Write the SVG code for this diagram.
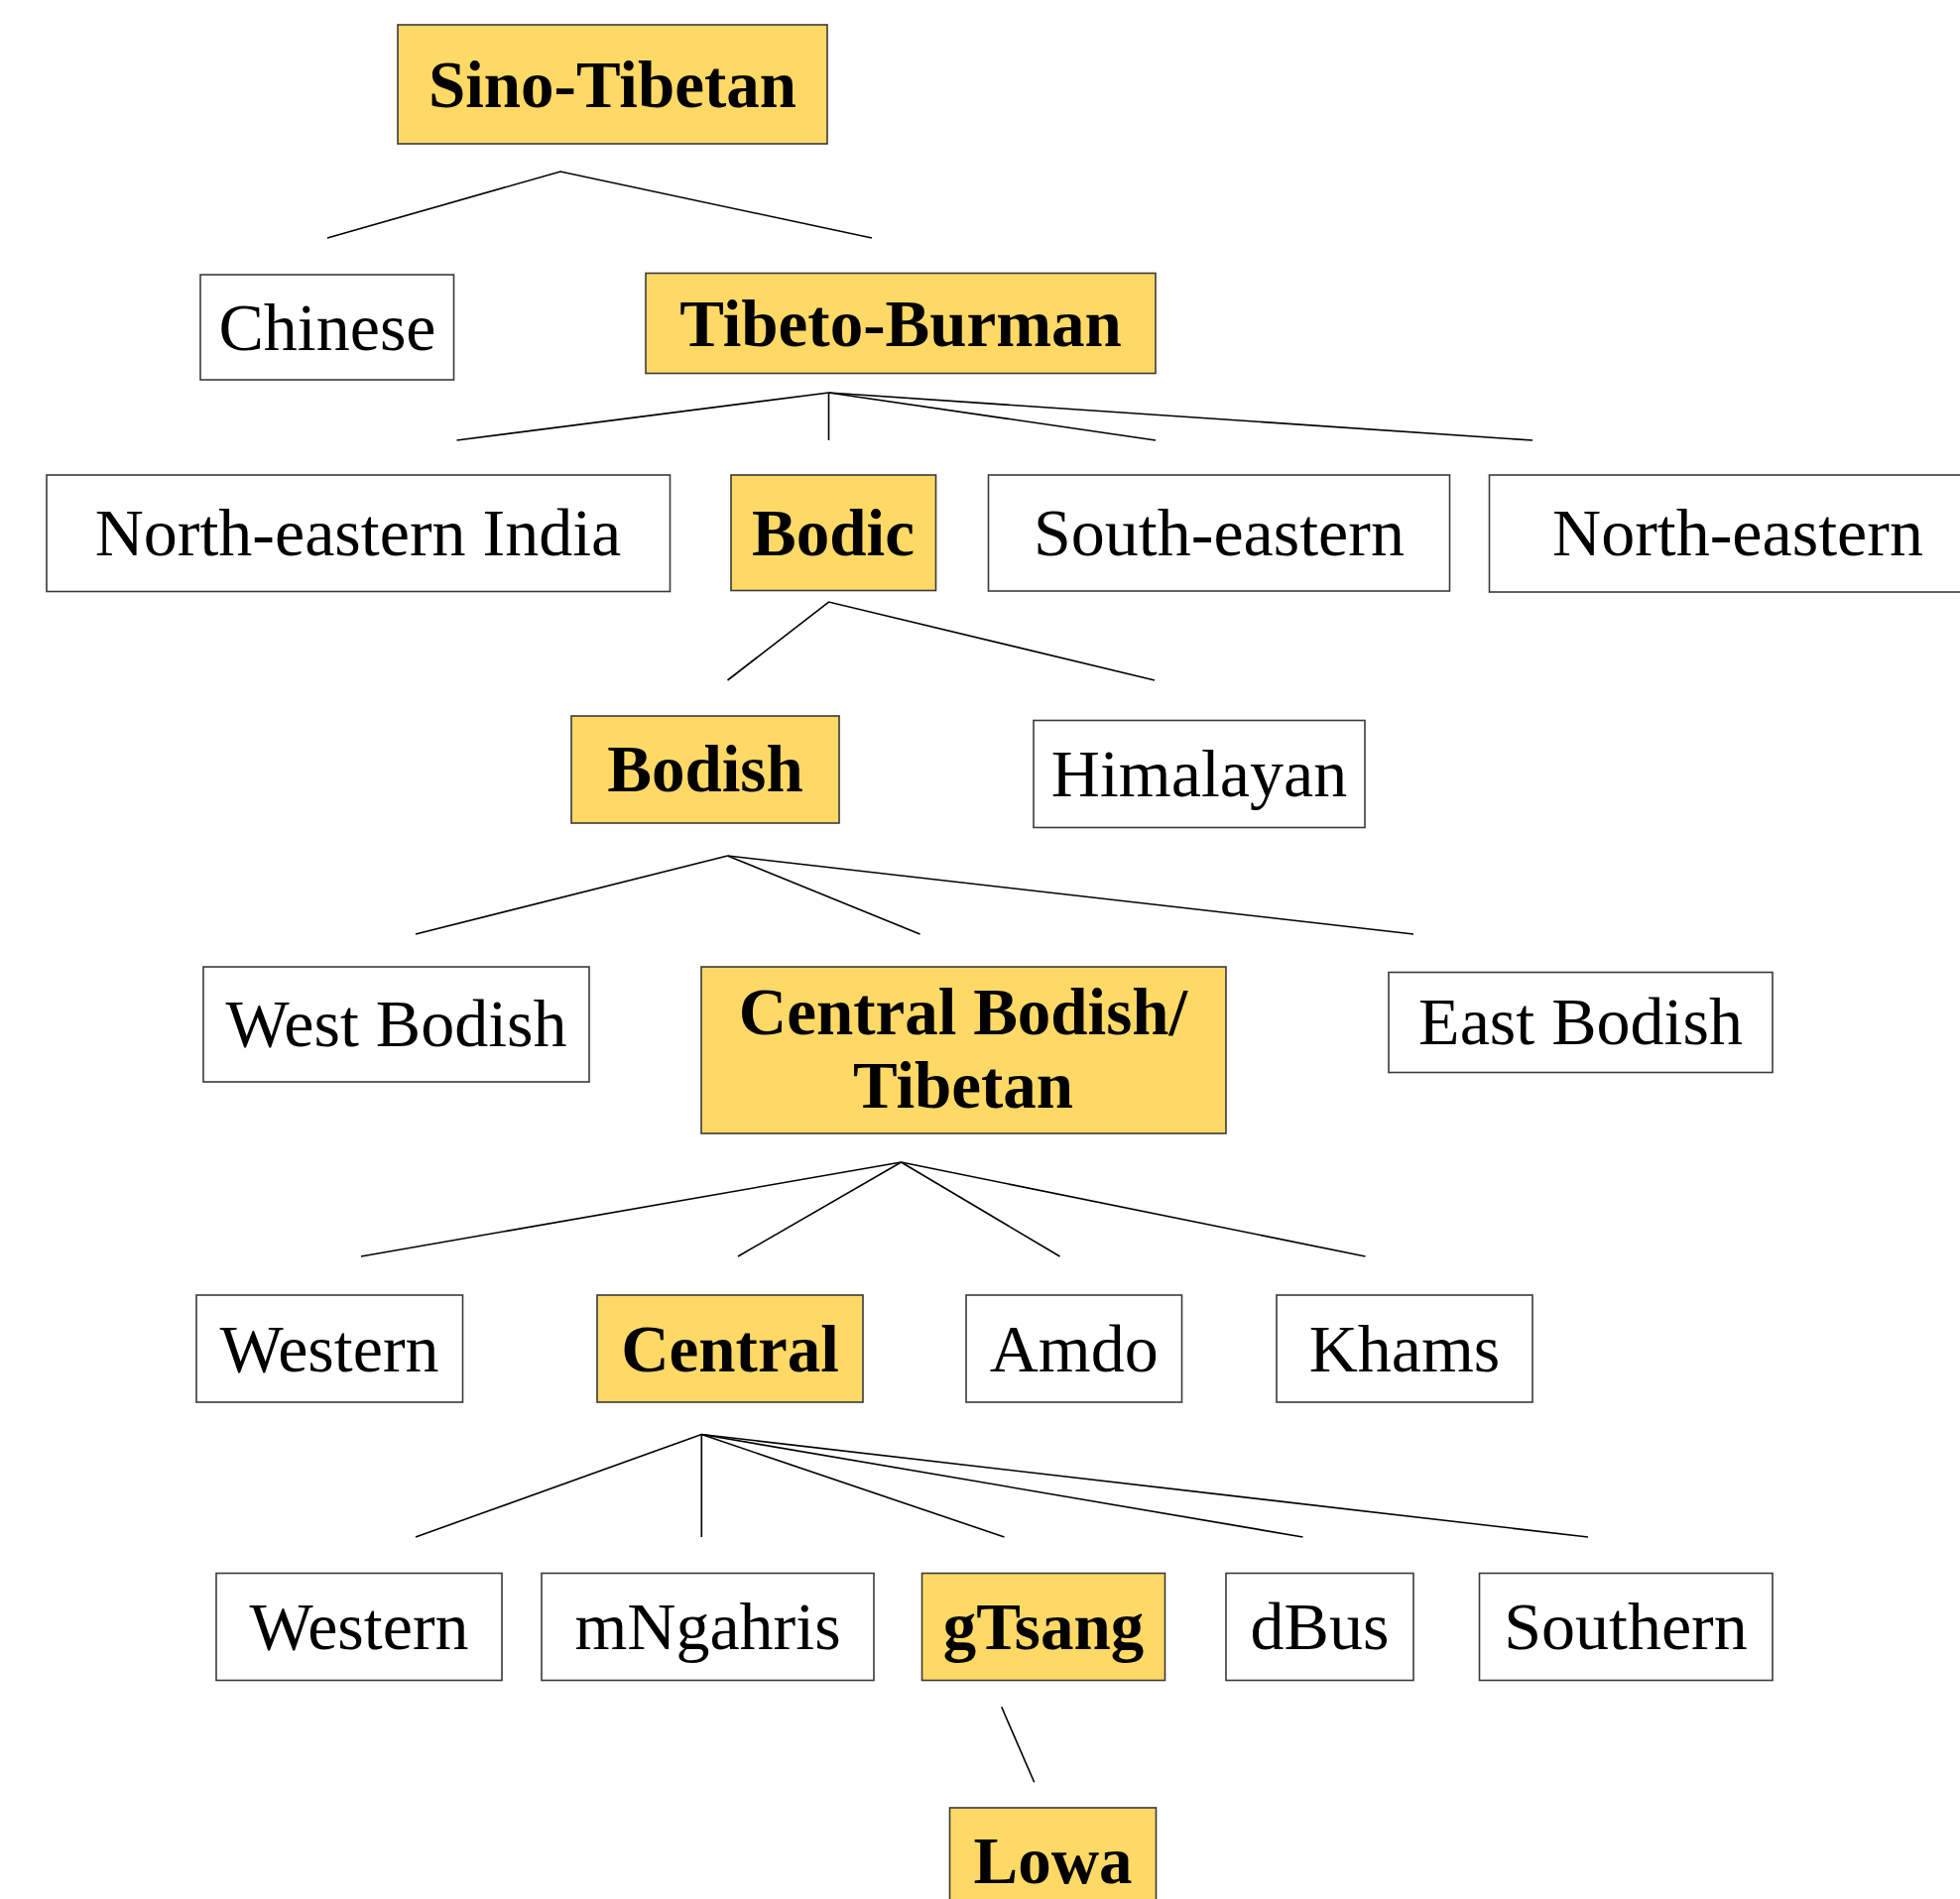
<svg xmlns="http://www.w3.org/2000/svg" width="1976" height="1915" viewBox="0 0 1976 1915">
<style>
.box{fill:#ffffff;stroke:#3a3a3a;stroke-width:1.6}
.hl{fill:#FFD966;stroke:#3a3a3a;stroke-width:1.6}
.t{font-family:"Liberation Serif","DejaVu Serif",serif;font-size:68px;fill:#000;text-anchor:middle}
.b{font-weight:bold;font-size:67px}
.ln{stroke:#000;stroke-width:1.6;fill:none}
</style>
<rect width="1976" height="1915" fill="#ffffff"/>
<g id="connectors">
<polyline class="ln" points="330,240 565,173 879,240"/>
<line class="ln" x1="835.5" y1="396" x2="460.5" y2="444"/>
<line class="ln" x1="835.5" y1="396" x2="835.5" y2="444"/>
<line class="ln" x1="835.5" y1="396" x2="1165" y2="444"/>
<line class="ln" x1="835.5" y1="396" x2="1545" y2="444"/>
<polyline class="ln" points="733.5,686 835.5,607 1164,686"/>
<line class="ln" x1="733.5" y1="863" x2="419" y2="942"/>
<line class="ln" x1="733.5" y1="863" x2="927.5" y2="942"/>
<line class="ln" x1="733.5" y1="863" x2="1425" y2="942"/>
<line class="ln" x1="908.5" y1="1172" x2="364" y2="1267"/>
<line class="ln" x1="908.5" y1="1172" x2="744" y2="1267"/>
<line class="ln" x1="908.5" y1="1172" x2="1068.5" y2="1267"/>
<line class="ln" x1="908.5" y1="1172" x2="1376.5" y2="1267"/>
<line class="ln" x1="707.3" y1="1446.5" x2="419" y2="1550"/>
<line class="ln" x1="707.3" y1="1446.5" x2="707.3" y2="1550"/>
<line class="ln" x1="707.3" y1="1446.5" x2="1012.5" y2="1550"/>
<line class="ln" x1="707.3" y1="1446.5" x2="1313.5" y2="1550"/>
<line class="ln" x1="707.3" y1="1446.5" x2="1601" y2="1550"/>
<line class="ln" x1="1009.7" y1="1721.3" x2="1042.7" y2="1797.3"/>
</g>
<g id="sino-tibetan"><rect class="hl" x="401" y="25" width="433" height="120"/><text class="t b" x="617.5" y="108">Sino-Tibetan</text></g>
<g id="chinese"><rect class="box" x="202" y="277" width="255.5" height="106"/><text class="t" x="330" y="352.7">Chinese</text></g>
<g id="tibeto-burman"><rect class="hl" x="651" y="275.5" width="514" height="101"/><text class="t b" x="908" y="349">Tibeto-Burman</text></g>
<g id="ne-india"><rect class="box" x="47" y="479" width="628.5" height="117.5"/><text class="t" x="361" y="560">North-eastern India</text></g>
<g id="bodic"><rect class="hl" x="737" y="479" width="206.5" height="116.5"/><text class="t b" x="840" y="560">Bodic</text></g>
<g id="south-eastern"><rect class="box" x="996.5" y="479" width="465" height="117"/><text class="t" x="1229" y="560">South-eastern</text></g>
<g id="north-eastern"><rect class="box" x="1501.5" y="479" width="520" height="118"/><text class="t" x="1752" y="560">North-eastern</text></g>
<g id="bodish"><rect class="hl" x="576" y="722" width="270" height="108"/><text class="t b" x="711" y="798">Bodish</text></g>
<g id="himalayan"><rect class="box" x="1042" y="726.5" width="334" height="108"/><text class="t" x="1209" y="803">Himalayan</text></g>
<g id="west-bodish"><rect class="box" x="205" y="975" width="389" height="116"/><text class="t" x="399.5" y="1055">West Bodish</text></g>
<g id="central-bodish"><rect class="hl" x="707" y="975" width="529" height="168"/><text class="t b" x="971" y="1043">Central Bodish/</text><text class="t b" x="971" y="1117">Tibetan</text></g>
<g id="east-bodish"><rect class="box" x="1400" y="980.5" width="387" height="101"/><text class="t" x="1593.5" y="1053">East Bodish</text></g>
<g id="western-1"><rect class="box" x="198" y="1306" width="268.5" height="108"/><text class="t" x="332" y="1383">Western</text></g>
<g id="central"><rect class="hl" x="602" y="1306" width="268" height="108"/><text class="t b" x="736" y="1383">Central</text></g>
<g id="amdo"><rect class="box" x="974" y="1306" width="217.5" height="108"/><text class="t" x="1082.7" y="1383">Amdo</text></g>
<g id="khams"><rect class="box" x="1287" y="1306" width="258" height="108"/><text class="t" x="1416" y="1383">Khams</text></g>
<g id="western-2"><rect class="box" x="218" y="1586.5" width="288" height="108"/><text class="t" x="362" y="1663">Western</text></g>
<g id="mngahris"><rect class="box" x="546" y="1586.5" width="335" height="108"/><text class="t" x="713.5" y="1663">mNgahris</text></g>
<g id="gtsang"><rect class="hl" x="929.5" y="1586.5" width="245" height="108"/><text class="t b" x="1052" y="1663">gTsang</text></g>
<g id="dbus"><rect class="box" x="1236" y="1586.5" width="189" height="108"/><text class="t" x="1330.5" y="1663">dBus</text></g>
<g id="southern"><rect class="box" x="1491.5" y="1586.5" width="295.5" height="108"/><text class="t" x="1639" y="1663">Southern</text></g>
<g id="lowa"><rect class="hl" x="957.5" y="1823" width="208" height="120"/><text class="t b" x="1061.5" y="1899">Lowa</text></g>
</svg>
